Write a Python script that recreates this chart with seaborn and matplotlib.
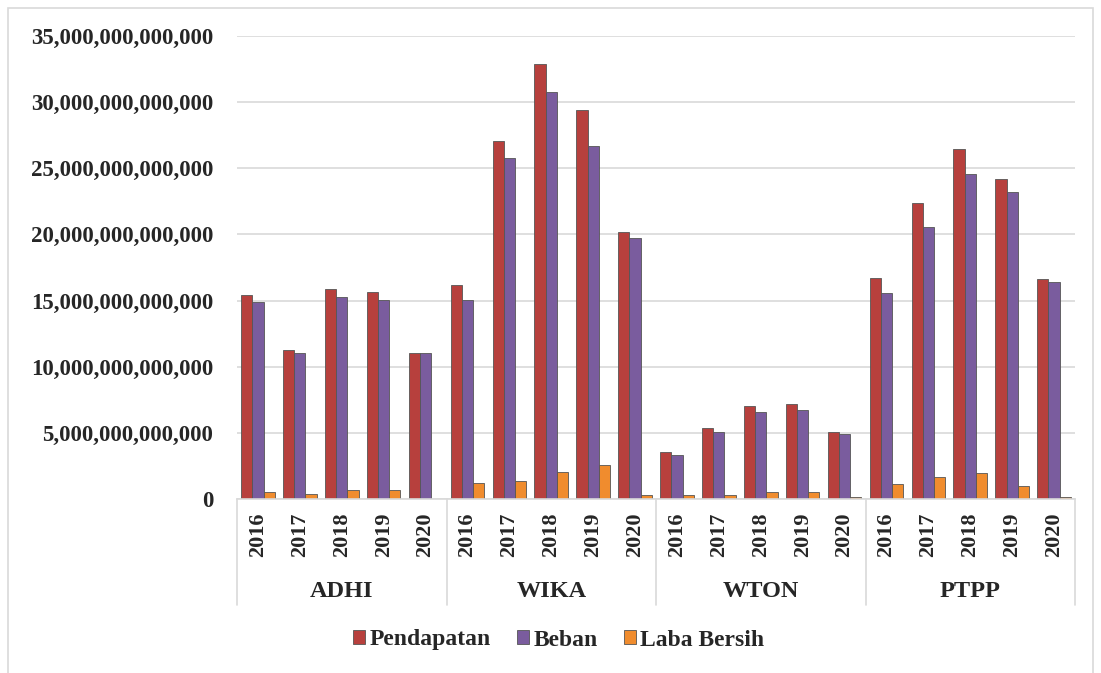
import pandas as pd
import matplotlib.pyplot as plt
import matplotlib.patches as mpatches
import seaborn as sns

# Data (nilai dalam Rupiah)
perusahaan = ['ADHI', 'WIKA', 'WTON', 'PTPP']
tahun = ['2016', '2017', '2018', '2019', '2020']

pendapatan = [15.45, 11.30, 15.85, 15.65, 11.05,
              16.20, 27.10, 32.85, 29.38, 20.16,
              3.57, 5.40, 7.03, 7.15, 5.04,
              16.73, 22.35, 26.45, 24.16, 16.65]
beban = [14.90, 11.00, 15.25, 15.04, 11.05,
         15.04, 25.75, 30.74, 26.70, 19.75,
         3.30, 5.10, 6.55, 6.70, 4.90,
         15.60, 20.58, 24.60, 23.18, 16.43]
laba_bersih = [0.55, 0.35, 0.65, 0.65, 0.02,
               1.20, 1.35, 2.07, 2.60, 0.30,
               0.28, 0.34, 0.50, 0.50, 0.12,
               1.15, 1.70, 1.95, 1.00, 0.13]

seri = ['Pendapatan', 'Beban', 'Laba Bersih']
warna = {'Pendapatan': '#B7403D', 'Beban': '#7A5C9E', 'Laba Bersih': '#F08C2E'}

# Susun dataframe
kunci = [f'{p}-{t}' for p in perusahaan for t in tahun]
df = pd.DataFrame({
    'kunci': kunci * 3,
    'seri': [s for s in seri for _ in kunci],
    'nilai': [v * 1e12 for v in pendapatan + beban + laba_bersih],
})

sns.set_theme(style="white")
plt.rcParams['font.family'] = ['Liberation Serif', 'DejaVu Serif']
plt.rcParams['font.weight'] = 'bold'

fig = plt.figure(figsize=(11.01, 6.73), dpi=100)
ax = fig.add_axes([237 / 1101, 1 - 499 / 673, (1075 - 237) / 1101, (499 - 36) / 673])

sns.barplot(data=df, x='kunci', y='nilai', hue='seri', order=kunci, hue_order=seri,
            palette=warna, width=0.8, saturation=1, linewidth=0.6,
            edgecolor='#555555', legend=False, ax=ax)

ax.set_ylim(0, 35e12)
ax.set_xlim(-0.5, len(kunci) - 0.5)
ax.set_yticks([i * 5e12 for i in range(8)])
ax.yaxis.set_major_formatter(plt.FuncFormatter(lambda v, p: f'{v:,.0f}'))
ax.grid(axis='y', color='#D9D9D9', linewidth=1.2)
ax.set_axisbelow(True)
for s in ['left', 'right', 'top']:
    ax.spines[s].set_visible(False)
ax.spines['bottom'].set_color('#D9D9D9')
ax.spines['bottom'].set_linewidth(1.2)
ax.tick_params(axis='y', length=0, labelsize=16.5, pad=17)
ax.tick_params(axis='x', length=0, labelsize=16, pad=10)
ax.set_xticks(range(len(kunci)))
ax.set_xticklabels([t for p in perusahaan for t in tahun], rotation=90, fontweight='bold')
for lbl in ax.get_yticklabels():
    lbl.set_fontweight('bold')
ax.set_xlabel('')
ax.set_ylabel('')

# Label kelompok perusahaan dan garis pemisah
trans = ax.get_xaxis_transform()
for i, p in enumerate(perusahaan):
    ax.text(i * 5 + 2, -0.199, p, transform=trans, ha='center', va='center',
            fontsize=17.5, fontweight='bold')
for i in range(len(perusahaan) + 1):
    ax.plot([i * 5 - 0.5, i * 5 - 0.5], [0, -0.229], transform=trans,
            color='#D9D9D9', linewidth=1.2, clip_on=False)

# Legenda
handles = [mpatches.Patch(facecolor=warna[s], edgecolor='#555555', linewidth=0.6, label=s) for s in seri]
fig.legend(handles=handles, loc='center', bbox_to_anchor=(559 / 1101, 1 - 640 / 673),
           ncol=3, frameon=False, handlelength=0.5, handleheight=0.5,
           handletextpad=0.2, columnspacing=1.1,
           prop={'family': 'Liberation Serif', 'weight': 'bold', 'size': 17})

# Bingkai luar
fig.patches.append(mpatches.Rectangle((8 / 1101, -0.05), 1085 / 1101, 1 - 8 / 673 + 0.05,
                                      transform=fig.transFigure, fill=False,
                                      edgecolor='#D9D9D9', linewidth=1.2))

plt.savefig('out.png', dpi=100)
